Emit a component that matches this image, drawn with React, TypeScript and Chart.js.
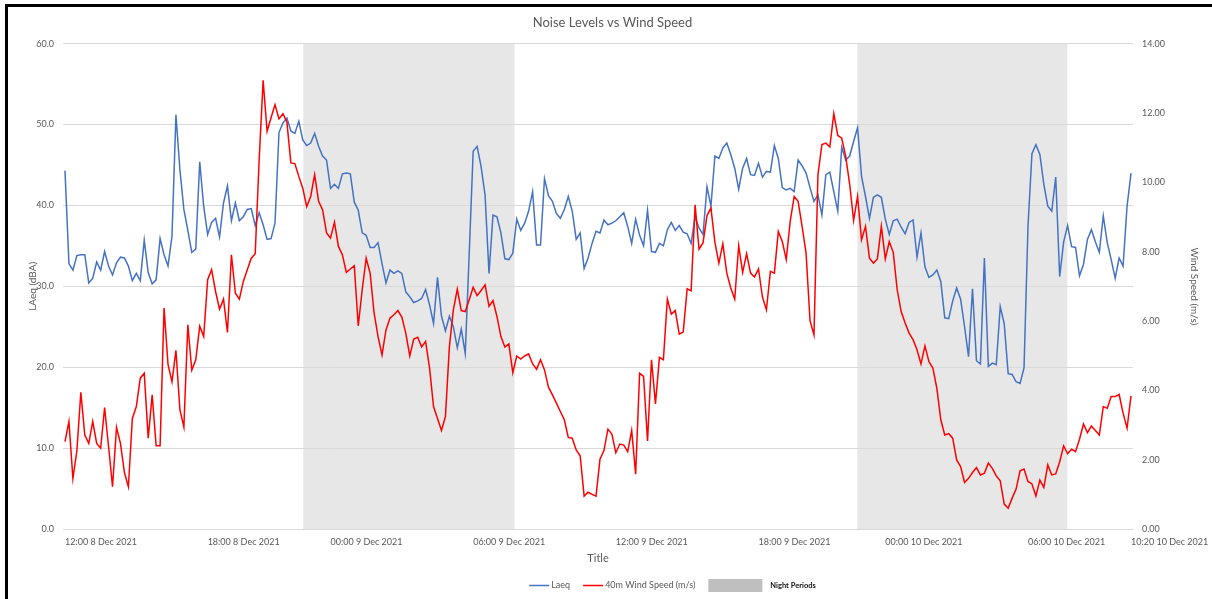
import React, { useEffect, useRef } from 'react';
import { Chart, registerables } from 'chart.js';

Chart.register(...registerables);

const FONT = 'Lato, "Open Sans", sans-serif';
const TEXT = '#595959';
const LAEQ_COLOR = '#4472C4';
const WIND_COLOR = '#FF0000';
const NIGHT_FILL = '#e7e7e7';
const NIGHT_SWATCH = '#bfbfbf';

// Laeq (dBA), one value per 10-minute sample (left axis)
const laeq = [
  44.3, 32.8, 32.0, 33.8, 33.9, 33.9, 30.4, 31.0, 33.0, 32.0,
  34.3, 32.5, 31.4, 32.9, 33.6, 33.5, 32.5, 30.7, 31.6, 30.7,
  35.7, 31.7, 30.3, 30.8, 35.9, 33.9, 32.5, 36.2, 51.2, 44.4,
  39.5, 36.9, 34.2, 34.6, 45.4, 39.9, 36.4, 37.9, 38.4, 36.1,
  40.3, 42.4, 38.1, 40.3, 38.1, 38.6, 39.5, 39.6, 37.5, 39.1,
  37.6, 35.8, 35.9, 37.8, 49.0, 50.2, 50.8, 49.2, 48.9, 50.4,
  48.1, 47.4, 47.7, 48.9, 47.3, 46.1, 45.6, 42.1, 42.6, 42.1,
  43.9, 44.0, 43.9, 40.4, 39.4, 36.6, 36.3, 34.8, 34.8, 35.4,
  32.8, 30.4, 32.0, 31.6, 31.9, 31.6, 29.3, 28.7, 28.0, 28.2,
  28.5, 29.6, 27.7, 25.4, 31.1, 26.3, 24.5, 26.3, 25.0, 22.4,
  24.7, 21.7, 34.0, 46.7, 47.3, 44.8, 41.3, 31.6, 38.8, 38.6,
  36.6, 33.4, 33.3, 34.1, 38.3, 36.9, 37.8, 39.3, 41.7, 35.1,
  35.1, 43.3, 41.2, 40.5, 39.0, 38.4, 39.5, 41.1, 39.3, 35.8,
  36.6, 32.2, 33.5, 35.3, 36.8, 36.6, 38.2, 37.6, 37.8, 38.1,
  38.6, 39.1, 37.4, 35.3, 38.3, 36.3, 35.0, 39.4, 34.3, 34.2,
  35.3, 35.0, 37.0, 37.9, 36.9, 37.5, 36.7, 36.5, 35.3, 38.6,
  37.2, 36.4, 42.3, 39.9, 46.1, 45.8, 47.1, 47.7, 46.3, 44.6,
  42.0, 44.6, 45.8, 43.8, 43.7, 45.2, 43.5, 44.2, 44.1, 47.4,
  45.8, 42.2, 41.9, 42.1, 41.7, 45.6, 44.9, 44.0, 42.2, 40.5,
  41.3, 38.8, 43.8, 44.1, 41.7, 39.3, 47.2, 45.6, 46.1, 47.9,
  49.6, 43.6, 41.1, 38.4, 41.0, 41.3, 41.0, 38.3, 36.4, 38.1,
  38.3, 37.3, 36.5, 37.9, 38.2, 33.6, 36.6, 32.4, 31.1, 31.4,
  32.0, 30.6, 26.1, 26.0, 28.2, 29.8, 28.4, 25.0, 21.3, 29.7,
  20.8, 20.4, 33.5, 20.1, 20.5, 20.3, 27.5, 25.4, 19.2, 19.1,
  18.2, 18.0, 19.9, 37.4, 46.4, 47.5, 46.3, 42.6, 39.9, 39.3,
  43.5, 31.2, 35.5, 37.5, 34.9, 34.8, 31.3, 32.7, 35.8, 37.0,
  35.5, 34.2, 38.7, 35.4, 33.3, 31.0, 33.5, 32.5, 39.9, 44.0,
];

// 40m wind speed (m/s), same samples (right axis)
const windSpeed = [
  2.52, 3.10, 1.46, 2.25, 3.94, 2.71, 2.47, 3.10, 2.47, 2.33,
  3.50, 2.38, 1.22, 2.93, 2.47, 1.63, 1.22, 3.19, 3.53, 4.35,
  4.49, 2.62, 3.87, 2.40, 2.40, 6.37, 4.75, 4.25, 5.15, 3.44,
  2.94, 5.89, 4.58, 4.88, 5.85, 5.55, 7.19, 7.48, 6.85, 6.34,
  6.63, 5.67, 7.91, 6.80, 6.63, 7.14, 7.48, 7.81, 7.94, 10.65,
  12.94, 11.47, 11.86, 12.24, 11.83, 11.98, 11.73, 10.56, 10.54, 10.17,
  9.83, 9.30, 9.59, 10.22, 9.45, 9.21, 8.54, 8.39, 8.85, 8.15,
  7.91, 7.40, 7.50, 7.59, 5.86, 6.90, 7.81, 7.38, 6.23, 5.55,
  5.02, 5.74, 6.08, 6.18, 6.30, 6.11, 5.65, 4.99, 5.48, 5.53,
  5.25, 5.41, 4.64, 3.53, 3.19, 2.84, 3.24, 5.26, 6.32, 6.92,
  6.30, 6.27, 6.61, 6.97, 6.73, 6.88, 7.04, 6.42, 6.59, 6.13,
  5.55, 5.25, 5.34, 4.51, 4.99, 4.90, 4.99, 5.05, 4.76, 4.61,
  4.88, 4.59, 4.09, 3.87, 3.63, 3.39, 3.15, 2.64, 2.62, 2.28,
  2.11, 0.95, 1.06, 1.00, 0.95, 2.01, 2.26, 2.88, 2.74, 2.20,
  2.45, 2.42, 2.23, 2.84, 1.58, 4.49, 4.40, 2.54, 4.88, 3.61,
  4.95, 4.88, 6.63, 6.20, 6.30, 5.62, 5.68, 6.93, 6.87, 9.35,
  8.07, 8.25, 9.04, 9.26, 8.27, 7.67, 8.23, 7.38, 6.95, 6.63,
  8.17, 7.40, 7.94, 7.38, 7.27, 7.50, 6.69, 6.32, 7.43, 7.38,
  8.58, 8.29, 7.77, 8.87, 9.59, 9.45, 8.73, 7.96, 6.01, 5.60,
  10.22, 11.09, 11.13, 11.02, 11.98, 11.35, 11.27, 10.75, 9.95, 8.90,
  9.59, 8.34, 8.73, 7.81, 7.67, 7.79, 8.73, 7.79, 8.29, 7.98,
  6.90, 6.27, 5.94, 5.65, 5.46, 5.17, 4.76, 5.28, 4.83, 4.64,
  4.06, 3.15, 2.71, 2.75, 2.62, 1.99, 1.80, 1.34, 1.46, 1.63,
  1.77, 1.56, 1.61, 1.90, 1.75, 1.53, 1.39, 0.72, 0.60, 0.89,
  1.15, 1.68, 1.73, 1.37, 1.30, 0.95, 1.41, 1.20, 1.85, 1.56,
  1.59, 1.94, 2.40, 2.17, 2.30, 2.23, 2.59, 3.03, 2.78, 2.97,
  2.84, 2.71, 3.53, 3.48, 3.82, 3.82, 3.88, 3.34, 2.91, 3.84,
];

// x-axis labels and the sample index where each sits
const tickIndex = [0, 36, 67, 103, 139, 175, 207, 243, 269];
const tickLabels = [
  '12:00 8 Dec 2021',
  '18:00 8 Dec 2021',
  '00:00 9 Dec 2021',
  '06:00 9 Dec 2021',
  '12:00 9 Dec 2021',
  '18:00 9 Dec 2021',
  '00:00 10 Dec 2021',
  '06:00 10 Dec 2021',
  '10:20 10 Dec 2021',
];

// night periods, in sample-index units
const nightStart = [60.1, 199.9];
const nightEnd = [113.5, 253.0];

const legendPlugin = {
  id: 'bottomLegend',
  afterDraw(chart: any) {
    const ctx = chart.ctx as CanvasRenderingContext2D;
    const ds = chart.data.datasets;
    const items = [
      { kind: 'line', color: LAEQ_COLOR, text: ds[0].label, font: `9px ${FONT}`, tc: TEXT, sw: 20, gap: 2 },
      { kind: 'line', color: WIND_COLOR, text: ds[1].label, font: `9px ${FONT}`, tc: TEXT, sw: 20, gap: 2 },
      { kind: 'box', color: NIGHT_SWATCH, text: ds[2].label, font: `bold 7.5px ${FONT}`, tc: '#111111', sw: 54, gap: 8 },
    ];
    const sep = 13;
    ctx.save();
    let total = 0;
    const widths = items.map((it) => {
      ctx.font = it.font;
      return ctx.measureText(it.text).width;
    });
    items.forEach((it, k) => {
      total += it.sw + it.gap + widths[k];
      if (k < items.length - 1) total += sep;
    });
    const centre = 672.5;
    const y = 585.5;
    let x = centre - total / 2;
    items.forEach((it, k) => {
      if (it.kind === 'line') {
        ctx.strokeStyle = it.color;
        ctx.lineWidth = 1.5;
        ctx.beginPath();
        ctx.moveTo(x, y);
        ctx.lineTo(x + it.sw, y);
        ctx.stroke();
      } else {
        ctx.fillStyle = it.color;
        ctx.fillRect(x, y - 6.5, it.sw, 13);
      }
      x += it.sw + it.gap;
      ctx.font = it.font;
      ctx.fillStyle = it.tc;
      ctx.textAlign = 'left';
      ctx.textBaseline = 'middle';
      ctx.fillText(it.text, x, y);
      x += widths[k] + sep;
    });
    ctx.restore();
  },
};

export default function App() {
  const ref = useRef<HTMLCanvasElement | null>(null);

  useEffect(() => {
    if (!ref.current) return;
    const nightData: any[] = [];
    nightStart.forEach((s, k) => {
      if (k > 0) nightData.push({ x: (nightEnd[k - 1] + s) / 2, y: null });
      nightData.push({ x: s, y: 1 });
      nightData.push({ x: nightEnd[k], y: 1 });
    });

    const chart = new Chart(ref.current, {
      type: 'line',
      data: {
        datasets: [
          {
            label: 'Laeq',
            data: laeq.map((v, i) => ({ x: i, y: v })),
            borderColor: LAEQ_COLOR,
            backgroundColor: LAEQ_COLOR,
            borderWidth: 1.5,
            pointRadius: 0,
            tension: 0,
            yAxisID: 'y',
            order: 2,
          },
          {
            label: '40m Wind Speed (m/s)',
            data: windSpeed.map((v, i) => ({ x: i, y: v })),
            borderColor: WIND_COLOR,
            backgroundColor: WIND_COLOR,
            borderWidth: 1.5,
            pointRadius: 0,
            tension: 0,
            yAxisID: 'y1',
            order: 1,
          },
          {
            label: 'Night Periods',
            data: nightData,
            borderColor: 'rgba(0,0,0,0)',
            backgroundColor: NIGHT_FILL,
            borderWidth: 0,
            pointRadius: 0,
            fill: 'origin',
            spanGaps: false,
            yAxisID: 'yNight',
            order: 3,
          } as any,
        ],
      },
      options: {
        responsive: false,
        animation: false,
        events: [],
        layout: { padding: { left: 20, right: 7, top: 0, bottom: 32 } },
        plugins: {
          legend: { display: false },
          tooltip: { enabled: false },
          filler: { drawTime: 'beforeDraw' } as any,
          title: {
            display: true,
            text: 'Noise Levels vs Wind Speed',
            color: TEXT,
            font: { family: FONT, size: 13, weight: 'normal' as any },
            padding: { top: 15, bottom: 13 },
          },
        },
        scales: {
          x: {
            type: 'linear',
            min: -0.5,
            max: 269.5,
            grid: { display: false, drawTicks: false },
            border: { display: false },
            afterBuildTicks: (s: any) => {
              s.ticks = tickIndex.map((v) => ({ value: v }));
            },
            afterFit: (s: any) => {
              s.height = 38;
              s.paddingLeft = 0;
              s.paddingRight = 0;
            },
            ticks: {
              autoSkip: false,
              maxRotation: 0,
              minRotation: 0,
              align: 'start',
              padding: 8,
              color: TEXT,
              font: { family: FONT, size: 9 },
              callback: (v: any) => {
                const k = tickIndex.indexOf(Number(v));
                return k >= 0 ? tickLabels[k] : '';
              },
            },
            title: {
              display: true,
              text: 'Title',
              color: TEXT,
              font: { family: FONT, size: 11 },
              padding: { top: 0, bottom: 2 },
            },
          },
          y: {
            position: 'left',
            min: 0,
            max: 60,
            grid: { color: '#d9d9d9', lineWidth: 1, drawTicks: false },
            border: { display: false },
            afterFit: (s: any) => {
              s.width = 43;
            },
            ticks: {
              stepSize: 10,
              padding: 9,
              color: TEXT,
              font: { family: FONT, size: 9 },
              callback: (v: any) => Number(v).toFixed(1),
            },
            title: {
              display: true,
              text: 'LAeq (dBA)',
              color: TEXT,
              font: { family: FONT, size: 10 },
              padding: { top: 7, bottom: 0 },
            },
          },
          y1: {
            position: 'right',
            min: 0,
            max: 14,
            grid: { display: false, drawTicks: false },
            border: { display: false },
            afterFit: (s: any) => {
              s.width = 72;
            },
            ticks: {
              stepSize: 2,
              padding: 9,
              color: TEXT,
              font: { family: FONT, size: 9 },
              callback: (v: any) => Number(v).toFixed(2),
            },
            title: {
              display: true,
              text: 'Wind Speed (m/s)',
              color: TEXT,
              font: { family: FONT, size: 10 },
              padding: { top: 5, bottom: 0 },
            },
          },
          yNight: {
            display: false,
            min: 0,
            max: 1,
          },
        },
      } as any,
      plugins: [legendPlugin],
    });
    return () => chart.destroy();
  }, []);

  return (
    <div
      style={{
        position: 'absolute',
        left: 0,
        top: 0,
        width: 1212,
        height: 599,
        overflow: 'hidden',
        background: '#ffffff',
      }}
    >
      <div
        style={{
          position: 'absolute',
          left: 5,
          top: 4,
          width: 1300,
          height: 700,
          border: '3px solid #000000',
          boxSizing: 'border-box',
        }}
      />
      <canvas
        ref={ref}
        width={1212}
        height={599}
        style={{ position: 'absolute', left: 0, top: 0, width: 1212, height: 599 }}
      />
    </div>
  );
}
